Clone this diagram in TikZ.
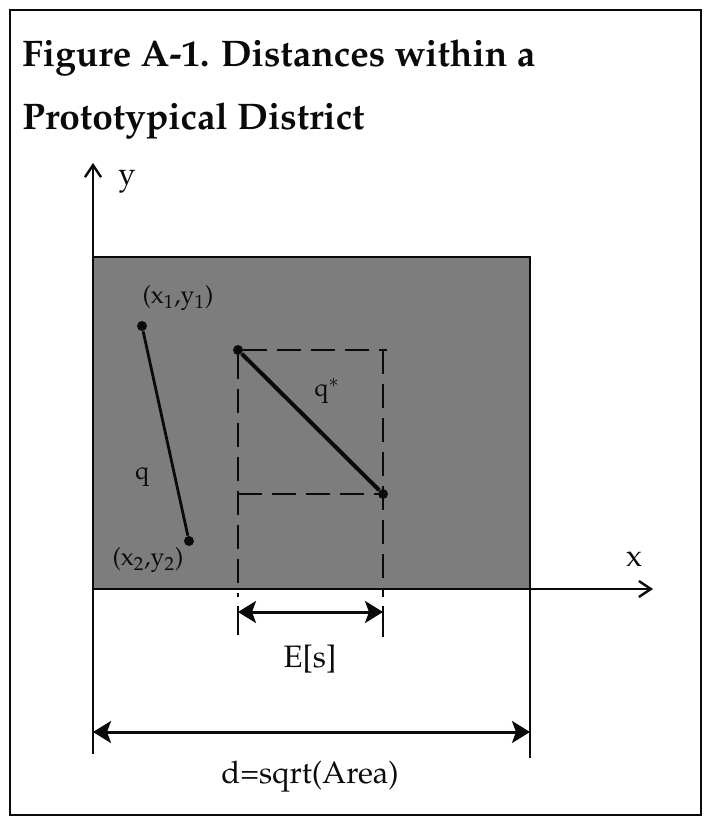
\documentclass[tikz,border=0pt]{standalone}
\usepackage[T1]{fontenc}
\usepackage{mathpazo}
\usepackage{tikz}
\usetikzlibrary{arrows.meta, positioning}
\definecolor{mydark}{RGB}{10,10,10}
\definecolor{myshade}{RGB}{125,125,125}
\tikzset{
  axisline/.style={-{Straight Barb[length=6pt,width=8pt,line width=1.2pt]}, line width=1.3pt, color=mydark},
  dimarrow/.style={{Stealth[length=9pt,width=11pt,inset=2pt]}-{Stealth[length=9pt,width=11pt,inset=2pt]}, line width=1.5pt, color=mydark},
  tick/.style={line width=1.3pt, color=mydark},
  lbl/.style={font=\fontsize{15.5}{18}\selectfont, inner sep=1pt, color=mydark}
}

\begin{document}
\begin{tikzpicture}[x=0.5pt, y=-0.5pt,
  title/.style={anchor=base west, inner sep=0pt, font=\fontsize{18.5}{22}\selectfont\bfseries, color=mydark},
  dot/.style={circle, fill=mydark, inner sep=0pt, minimum size=5pt},
  seg/.style={line width=1.4pt, color=mydark},
  dashbox/.style={line width=1.3pt, color=mydark, dash pattern=on 12pt off 5pt},
  small/.style={font=\fontsize{12.5}{15}\selectfont, inner sep=1pt, color=mydark}]

  \useasboundingbox (0,0) rectangle (706,817);
  \draw[line width=1.4pt, color=mydark] (10,10) rectangle (701,815);

  % Title
  \node[title] (title1) at (22,67) {Figure A-1. Distances within a};
  \node[title] (title2) at (22,130) {Prototypical District};

  % District
  \fill[myshade] (93,257) rectangle (530,589);
  \draw[line width=1.4pt, color=mydark] (93,589) |- (530,257) -- (530,589);

  % Axes
  \coordinate (o) at (93,589);
  \coordinate (ytip) at (93,163);
  \coordinate (xtip) at (653,589);
  \draw[axisline] (o) -- (ytip);
  \draw[axisline] (o) -- (xtip);
  \node[lbl] (ylbl) at (127,182) {y};
  \node[lbl] (xlbl) at (634,559) {x};

  % Trip q
  \node[dot] (p1) at (142,326) {};
  \node[dot] (p2) at (189,541) {};
  \draw[seg] (p1) -- (p2);
  \node[small] (p1lbl) at (178,298) {(x\textsubscript{1},y\textsubscript{1})};
  \node[small] (p2lbl) at (148,560) {(x\textsubscript{2},y\textsubscript{2})};
  \node[small] (qlbl) at (142,477) {q};

  % Trip q*
  \node[dot] (qa) at (238,350) {};
  \node[dot] (qb) at (383,494) {};
  \draw[line width=2pt, color=mydark] (qa) -- (qb);
  \node[small] (qslbl) at (327,391) {q$^{*}$};
  \coordinate (qa-top) at (387,350);
  \coordinate (qa-bot) at (238,597);
  \coordinate (qb-bot) at (383,597);
  \draw[dashbox] (qa) -- (qa-top);
  \draw[dashbox] (qa) -- (qa-bot);
  \draw[dashbox] (qa-top -| qb) -- (qb-bot);
  \draw[dashbox] (qa |- qb) -- (qb);

  % E[s]
  \coordinate (es-l) at (238,612);
  \coordinate (es-r) at (383,612);
  \draw[tick] (238,606) -- (238,635);
  \draw[tick] (383,606) -- (383,637);
  \draw[dimarrow] (es-l) -- (es-r);
  \node[lbl] (eslbl) at (310,659) {E[s]};

  % d
  \coordinate (d-l) at (93,732);
  \coordinate (d-r) at (530,732);
  \draw[tick] (o) -- (93,754);
  \draw[tick] (530,589) -- (530,758);
  \draw[dimarrow] (d-l) -- (d-r);
  \node[lbl] (dlbl) at (310,777) {d=sqrt(Area)};

\end{tikzpicture}
\end{document}
